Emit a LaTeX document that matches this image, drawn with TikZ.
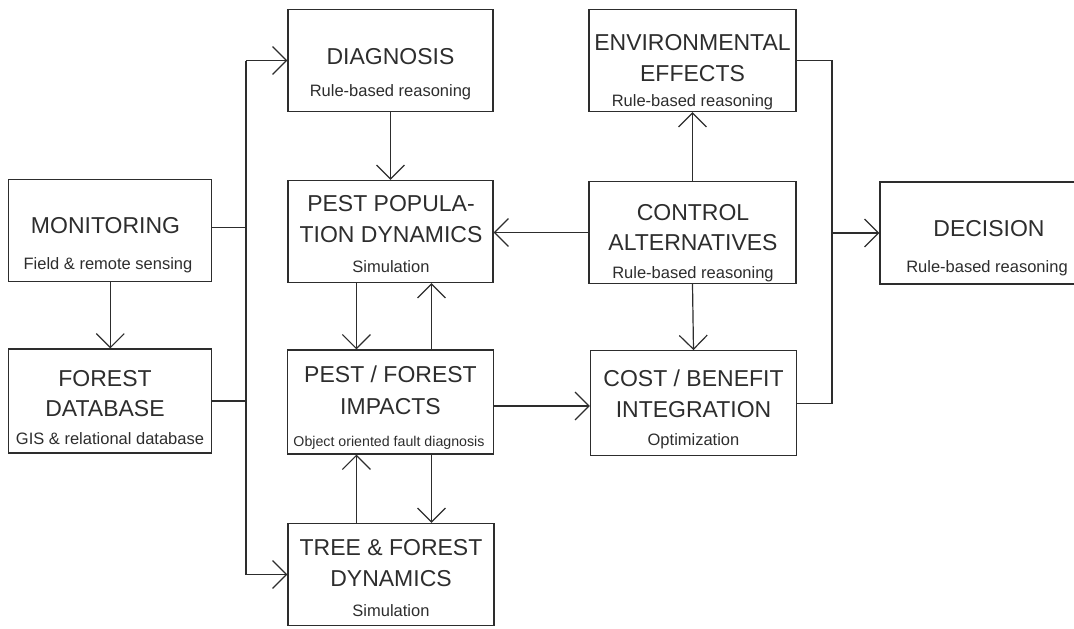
\documentclass[tikz,border=0pt]{standalone}
\usepackage{fontspec}
\setmainfont{Liberation Sans}
\usetikzlibrary{arrows.meta,calc}
\definecolor{ink}{RGB}{45,45,45}
\begin{document}
\begin{tikzpicture}[x=1pt,y=-1pt,
  box/.style={draw=ink, line width=1.2pt, rectangle, inner sep=0pt, minimum height=102pt},
  main/.style={font=\fontsize{23}{23}\selectfont, text=ink, inner sep=0pt, anchor=base},
  sub/.style={font=\fontsize{16.5}{16.5}\selectfont, text=ink, inner sep=0pt, anchor=base},
  conn/.style={draw=ink, line width=1.2pt},
  arr/.style={conn, -{Straight Barb[length=14pt,width=28pt]}}]
\useasboundingbox (0,0) rectangle (1074,629);
\clip (0,0) rectangle (1074,629);
% boxes
\node[box, minimum width=205pt] (diag) at (390.5,60.5) {};
\node[box, minimum width=207pt] (env)  at (692.5,60.5) {};
\node[box, minimum width=203pt] (mon)  at (110.3,230.5) {};
\node[box, minimum width=205pt] (pop)  at (390.5,231.5) {};
\node[box, minimum width=207pt] (ctrl) at (692.5,232.5) {};
\node[box, minimum width=216pt] (dec)  at (988,233) {};
\node[box, minimum width=203pt, minimum height=104pt] (fdb)  at (110.3,401) {};
\node[box, minimum width=206pt, minimum height=104pt] (imp)  at (390.5,402) {};
\node[box, minimum width=206pt, minimum height=105pt] (cost) at (693.5,403.2) {};
\node[box, minimum width=206pt] (tree) at (391,574.5) {};
% texts
\node[main] (diag1) at (390.5,64) {DIAGNOSIS};
\node[sub]  (diag2) at (390.5,96) {Rule-based reasoning};
\node[main] (env1) at (692.5,50) {ENVIRONMENTAL};
\node[main] (env2) at (692.5,81.7) {EFFECTS};
\node[sub]  (env3) at (692.5,106) {Rule-based reasoning};
\node[main] (mon1) at (105.5,233.3) {MONITORING};
\node[sub]  (mon2) at (108,269) {Field \& remote sensing};
\node[main] (pop1) at (391,211.7) {PEST POPULA-};
\node[main] (pop2) at (391,242) {TION DYNAMICS};
\node[sub]  (pop3) at (391,272.7) {Simulation};
\node[main] (ctrl1) at (693,220) {CONTROL};
\node[main] (ctrl2) at (693,250) {ALTERNATIVES};
\node[sub]  (ctrl3) at (693,278) {Rule-based reasoning};
\node[main] (dec1) at (989,236) {DECISION};
\node[sub]  (dec2) at (987,272.7) {Rule-based reasoning};
\node[main] (fdb1) at (105,386.7) {FOREST};
\node[main] (fdb2) at (105,416.7) {DATABASE};
\node[sub]  (fdb3) at (110,444) {GIS \& relational database};
\node[main] (imp1) at (390.5,382.7) {PEST / FOREST};
\node[main] (imp2) at (390.5,414) {IMPACTS};
\node[sub, font=\fontsize{14.2}{14.2}\selectfont] (imp3) at (389,446.7) {Object oriented fault diagnosis};
\node[main] (cost1) at (693.5,386) {COST / BENEFIT};
\node[main] (cost2) at (693.5,417) {INTEGRATION};
\node[sub]  (cost3) at (693.5,445.7) {Optimization};
\node[main] (tree1) at (391,555) {TREE \& FOREST};
\node[main] (tree2) at (391,586) {DYNAMICS};
\node[sub]  (tree3) at (391,616) {Simulation};
% connector guide coordinates
\coordinate (trunkx) at (246,0);
\coordinate (xl) at (356.4,0);
\coordinate (xr) at (431.5,0);
\coordinate (rx) at (832,0);
% connectors
\draw[conn] (trunkx |- diag.west) -- (trunkx |- tree.west);
\draw[arr] (trunkx |- diag.west) -- (diag.west);
\draw[arr] (trunkx |- tree.west) -- (tree.west);
\draw[conn] ([yshift=3pt]mon.east) -- ($(trunkx |- mon.east)+(0,-3)$);
\draw[conn] (fdb.east) -- (trunkx |- fdb.east);
\draw[arr] (mon.south) -- (fdb.north);
\draw[arr] (diag.south) -- (pop.north);
\draw[arr] (xl |- pop.south) -- (xl |- imp.north);
\draw[arr] (xr |- imp.north) -- (xr |- pop.south);
\draw[arr] (xr |- imp.south) -- (xr |- tree.north);
\draw[arr] (xl |- tree.north) -- (xl |- imp.south);
\draw[arr] ([yshift=-4pt]imp.east) -- ([yshift=-4pt]imp.east -| cost.west);
\draw[arr] (ctrl.west) -- (ctrl.west -| pop.east);
\draw[arr] (ctrl.north) -- (env.south);
\draw[arr] (ctrl.south) -- (cost.north);
\draw[conn] (env.east) -- (rx |- env.east) -- (rx |- cost.east) -- (cost.east);
\draw[arr] (rx |- dec.west) -- (dec.west);
\end{tikzpicture}
\end{document}
